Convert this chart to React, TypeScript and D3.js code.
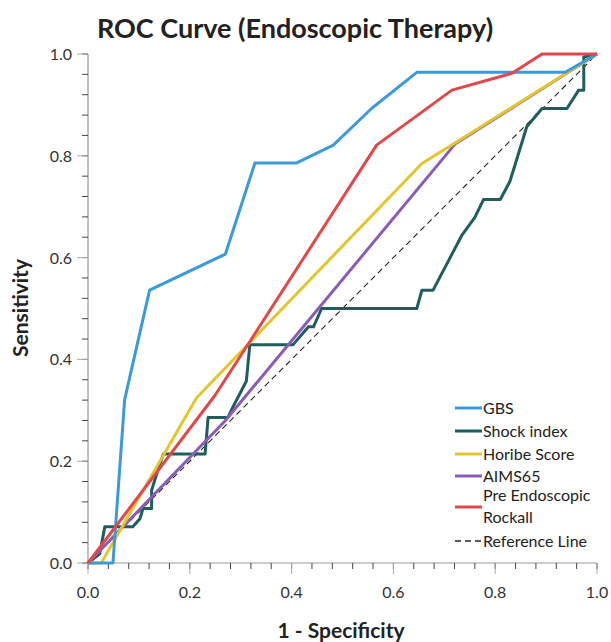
import React from 'react';
import * as d3 from 'd3';

const W = 611;
const H = 642;
const M = { left: 88, right: 14, top: 54, bottom: 79 };
const FONT = 'Lato, "Open Sans", sans-serif';

// [1 - specificity, sensitivity]
const gbs = [
  [0, 0], [0.049, 0], [0.072, 0.321], [0.121, 0.536], [0.27, 0.607], [0.328, 0.786],
  [0.41, 0.786], [0.482, 0.821], [0.557, 0.893], [0.646, 0.964], [0.9375, 0.964], [1, 1],
];
const shockIndex = [
  [0, 0], [0.023, 0.018], [0.033, 0.071], [0.088, 0.071], [0.102, 0.087], [0.108, 0.107],
  [0.125, 0.107], [0.125, 0.143], [0.134, 0.172], [0.148, 0.214], [0.23, 0.214], [0.236, 0.286],
  [0.275, 0.286], [0.285, 0.307], [0.311, 0.357], [0.318, 0.429], [0.403, 0.429], [0.433, 0.464],
  [0.443, 0.464], [0.459, 0.5], [0.646, 0.5], [0.656, 0.536], [0.678, 0.536], [0.734, 0.643],
  [0.76, 0.679], [0.777, 0.714], [0.81, 0.714], [0.829, 0.75], [0.862, 0.857], [0.892, 0.893],
  [0.941, 0.893], [0.964, 0.929], [0.974, 0.929], [0.974, 0.994], [1, 1],
];
const horibe = [[0, 0], [0.026, 0], [0.213, 0.324], [0.656, 0.785], [0.721, 0.825], [1, 1]];
const aims65 = [[0, 0], [0.27, 0.28], [0.721, 0.823], [1, 1]];
const rockall = [
  [0, 0], [0.25, 0.33], [0.567, 0.821], [0.715, 0.929], [0.833, 0.962], [0.892, 1], [1, 1],
];
const refLine = [[0, 0], [1, 1]];

const seriesNames = ['GBS', 'Shock index', 'Horibe Score', 'AIMS65', 'Pre Endoscopic\nRockall'];
const seriesData = [gbs, shockIndex, horibe, aims65, rockall];
const seriesColors = ['#3b9ad9', '#1f5e5c', '#e3c62c', '#8b5cb5', '#e2474a'];
const majorTicks = [0, 0.2, 0.4, 0.6, 0.8, 1.0];
const minorTicks = d3.range(0, 1.0001, 0.04);

export default function App() {
  const x = d3.scaleLinear().domain([0, 1]).range([M.left, W - M.right]);
  const y = d3.scaleLinear().domain([0, 1]).range([H - M.bottom, M.top]);
  const line = d3.line<number[]>().x((d) => x(d[0])).y((d) => y(d[1]));
  const x0 = x(0);
  const y0 = y(0);

  // draw order: teal underneath, red on top like the source
  const drawOrder = [1, 3, 2, 0, 4];

  const legendX = 455;
  const legendRows = [408, 431, 454, 476];

  return (
    <svg width={W} height={H} style={{ position: 'absolute', left: 0, top: 0, background: '#fff' }}>
      <text x={295} y={38} textAnchor="middle" fontFamily={FONT} fontWeight="bold" fontSize={27} fill="#222">
        ROC Curve (Endoscopic Therapy)
      </text>

      {/* axes */}
      <line x1={x0} x2={x0} y1={y(1)} y2={y0} stroke="#999" strokeWidth={1.2} />
      <line x1={x0} x2={x(1)} y1={y0} y2={y0} stroke="#999" strokeWidth={1.2} />
      {minorTicks.map((t, i) => (
        <g key={'m' + i}>
          <line x1={x0 - 6} x2={x0} y1={y(t)} y2={y(t)} stroke="#444" />
          <line x1={x(t)} x2={x(t)} y1={y0} y2={y0 + 6} stroke="#444" />
        </g>
      ))}
      {majorTicks.map((t) => (
        <g key={'M' + t}>
          <line x1={x0 - 11} x2={x0} y1={y(t)} y2={y(t)} stroke="#aaa" />
          <line x1={x(t)} x2={x(t)} y1={y0} y2={y0 + 11} stroke="#aaa" />
          <text x={x0 - 16} y={y(t) + 6} textAnchor="end" fontFamily={FONT} fontSize={16} fill="#333">
            {t.toFixed(1)}
          </text>
          <text x={x(t)} y={y0 + 35} textAnchor="middle" fontFamily={FONT} fontSize={16} fill="#333">
            {t.toFixed(1)}
          </text>
        </g>
      ))}

      <text x={341} y={638} textAnchor="middle" fontFamily={FONT} fontWeight="bold" fontSize={21} fill="#222">
        1 - Specificity
      </text>
      <text
        transform={`translate(28, ${308}) rotate(-90)`}
        textAnchor="middle"
        fontFamily={FONT}
        fontWeight="bold"
        fontSize={21}
        fill="#222"
      >
        Sensitivity
      </text>

      {/* reference line */}
      <path d={line(refLine as number[][]) ?? ''} fill="none" stroke="#222" strokeWidth={1.1} strokeDasharray="6,4" />

      {drawOrder.map((i) => (
        <path
          key={seriesNames[i]}
          d={line(seriesData[i] as number[][]) ?? ''}
          fill="none"
          stroke={seriesColors[i]}
          strokeWidth={3}
          strokeLinejoin="round"
        />
      ))}

      {/* legend */}
      {seriesNames.slice(0, 4).map((name, i) => (
        <g key={'lg' + i}>
          <line x1={legendX} x2={legendX + 27} y1={legendRows[i]} y2={legendRows[i]} stroke={seriesColors[i]} strokeWidth={3} />
          <text x={legendX + 28} y={legendRows[i] + 6} fontFamily={FONT} fontSize={16} fill="#222">
            {name}
          </text>
        </g>
      ))}
      <line x1={legendX} x2={legendX + 27} y1={507} y2={507} stroke={seriesColors[4]} strokeWidth={3} />
      <text x={legendX + 28} y={501} fontFamily={FONT} fontSize={16} fill="#222">
        Pre Endoscopic
      </text>
      <text x={legendX + 28} y={523} fontFamily={FONT} fontSize={16} fill="#222">
        Rockall
      </text>
      <line x1={legendX} x2={legendX + 27} y1={541} y2={541} stroke="#222" strokeWidth={1.3} strokeDasharray="6,4" />
      <text x={legendX + 28} y={547} fontFamily={FONT} fontSize={16} fill="#222">
        Reference Line
      </text>
    </svg>
  );
}
